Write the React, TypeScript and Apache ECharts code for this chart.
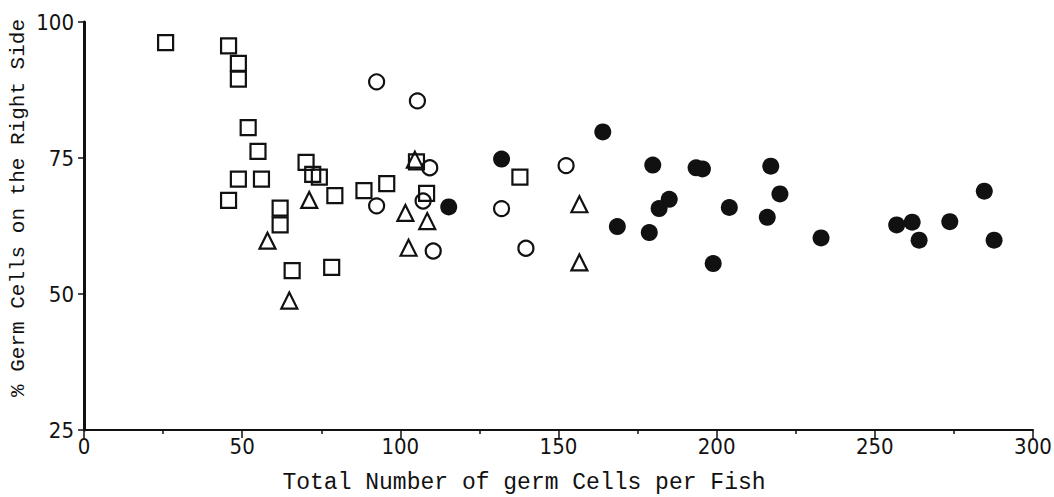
import React, { useEffect, useRef } from "react";
import * as echarts from "echarts";

const squareGroup: [number, number][] = [
  [25.8, 96.2], [45.7, 95.6], [48.8, 92.4], [48.8, 89.5], [51.9, 80.6], [55.0, 76.2],
  [70.2, 74.2], [72.3, 72.0], [74.4, 71.5], [79.3, 68.1], [48.8, 71.1], [56.1, 71.1],
  [45.7, 67.2], [62.0, 65.8], [62.0, 62.7], [88.5, 69.0], [95.7, 70.3], [65.8, 54.3],
  [78.3, 54.9], [105.1, 74.3], [108.3, 68.5], [137.8, 71.5],
];
const openCircleGroup: [number, number][] = [
  [92.5, 89.0], [105.4, 85.5], [109.3, 73.2], [92.5, 66.2], [107.2, 67.1], [110.4, 57.9],
  [132.0, 65.7], [139.7, 58.4], [152.4, 73.6],
];
const triangleGroup: [number, number][] = [
  [71.2, 67.3], [58.0, 59.8], [64.9, 48.8], [104.6, 74.7], [101.6, 64.9], [108.5, 63.4],
  [102.6, 58.5], [156.6, 66.5], [156.6, 55.8],
];
const filledCircleGroup: [number, number][] = [
  [115.3, 66.0], [132.0, 74.8], [164.0, 79.8], [179.8, 73.7], [193.5, 73.2], [195.5, 73.0],
  [217.1, 73.5], [220.0, 68.4], [185.0, 67.4], [181.8, 65.7], [204.0, 65.9], [216.0, 64.1],
  [168.6, 62.4], [178.7, 61.3], [198.9, 55.6], [233.0, 60.3], [256.9, 62.7], [261.8, 63.2],
  [264.0, 59.9], [273.7, 63.3], [284.6, 68.9], [287.7, 59.9],
];

const xTitle = "Total Number of germ Cells per Fish";
const yTitle = "% Germ Cells on the Right Side";

const INK = "#111111";
const tickFont = "'Liberation Sans Narrow', 'DejaVu Sans Condensed', 'Liberation Mono', monospace";
const titleFont = "'Liberation Mono', 'DejaVu Sans Mono', monospace";

export default function App() {
  const ref = useRef<HTMLDivElement>(null);
  useEffect(() => {
    document.body.style.margin = "0";
    if (!ref.current) return;
    const chart = echarts.init(ref.current, undefined, { renderer: "svg" });
    const openStyle = { color: "transparent", borderColor: INK, borderWidth: 2.2, opacity: 1 };
    chart.setOption({
      animation: false,
      backgroundColor: "#ffffff",
      grid: {
        left: 84,
        right: 21,
        top: 22,
        bottom: 67,
        containLabel: false,
        outerBoundsMode: "none",
      },
      graphic: [
        {
          type: "text",
          x: 524,
          y: 483,
          style: {
            text: xTitle,
            fontFamily: titleFont,
            fontSize: 23,
            fill: INK,
            align: "center",
            verticalAlign: "middle",
          },
        },
        {
          type: "text",
          x: 18,
          y: 208,
          rotation: Math.PI / 2,
          style: {
            text: yTitle,
            fontFamily: titleFont,
            fontSize: 21,
            fill: INK,
            align: "center",
            verticalAlign: "middle",
          },
        },
      ],
      xAxis: {
        type: "value",
        min: 0,
        max: 300,
        interval: 50,
        axisLine: { show: true, onZero: false, lineStyle: { color: INK, width: 2 } },
        axisTick: { show: true, length: 8, lineStyle: { color: INK, width: 1.5 } },
        minorTick: { show: true, splitNumber: 2, length: 4, lineStyle: { color: INK, width: 1.5 } },
        axisLabel: { fontFamily: tickFont, fontSize: 22, color: INK, margin: 5 },
        splitLine: { show: false },
      },
      yAxis: {
        type: "value",
        min: 25,
        max: 100,
        interval: 25,
        axisLine: { show: true, onZero: false, lineStyle: { color: INK, width: 3 } },
        axisTick: { show: true, length: 6, lineStyle: { color: INK, width: 1.5 } },
        axisLabel: { fontFamily: tickFont, fontSize: 22, color: INK, margin: 10 },
        splitLine: { show: false },
      },
      series: [
        { type: "scatter", data: squareGroup, symbol: "rect", symbolSize: 15, itemStyle: openStyle },
        { type: "scatter", data: openCircleGroup, symbol: "circle", symbolSize: 15, itemStyle: openStyle },
        { type: "scatter", data: triangleGroup, symbol: "triangle", symbolSize: 16, itemStyle: openStyle },
        { type: "scatter", data: filledCircleGroup, symbol: "circle", symbolSize: 17, itemStyle: { color: INK, opacity: 1 } },
      ],
    });
    return () => chart.dispose();
  }, []);
  return <div ref={ref} style={{ width: 1054, height: 497 }} />;
}
